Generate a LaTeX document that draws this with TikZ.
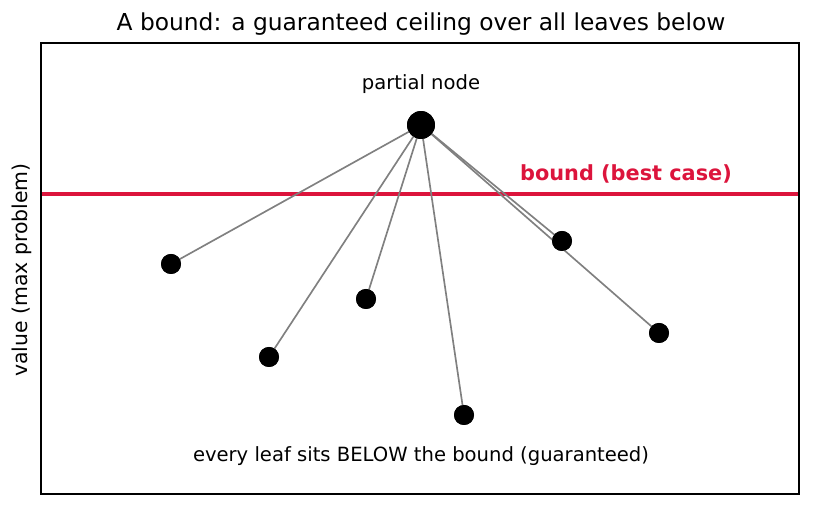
\documentclass[tikz,border=0pt]{standalone}
\usepackage{fontspec}
\setmainfont{DejaVu Sans}
\definecolor{boundred}{HTML}{DC143C}
\begin{document}
\begin{tikzpicture}[x=0.48pt,y=-0.48pt,
  leaf/.style={circle,fill=black,inner sep=0pt,minimum size=9.6pt},
  root/.style={circle,fill=black,inner sep=0pt,minimum size=13.4pt},
  edge/.style={draw=gray,line width=0.8pt},
  lbl/.style={inner sep=0pt,font=\fontsize{9.4}{11}\selectfont}]
\useasboundingbox (0,0) rectangle (814,510);
\node[font=\fontsize{11.2}{13}\selectfont,inner sep=0pt] (title) at (421,24) {A bound: a guaranteed ceiling over all leaves below};
\coordinate (axL) at (41,194);
\coordinate (axR) at (799,194);
\draw[boundred,line width=2pt] (axL) -- (axR);
\node[root] (p) at (421,125) {};
\node[leaf] (l1) at (171,264) {};
\node[leaf] (l2) at (269,357) {};
\node[leaf] (l3) at (366,299) {};
\node[leaf] (l4) at (464,415) {};
\node[leaf] (l5) at (562,241) {};
\node[leaf] (l6) at (659,333) {};
\foreach \l in {l1,l2,l3,l4,l5,l6} \path[edge] (p.center) -- (\l.center);
\foreach \l/\x/\y in {l1/171/264,l2/269/357,l3/366/299,l4/464/415,l5/562/241,l6/659/333} \node[leaf] at (\x,\y) {};
\node[root] at (421,125) {};
\node[lbl] (plabel) at (421,84) {partial node};
\node[inner sep=0pt,font=\bfseries\fontsize{10}{12}\selectfont,text=boundred] (blabel) at (626,174) {bound (best case)};
\node[lbl] (bottom) at (421,456) {every leaf sits BELOW the bound (guaranteed)};
\node[inner sep=0pt,font=\fontsize{9.8}{12}\selectfont,rotate=90] (ylab) at (22,270) {value (max problem)};
\draw[line width=0.8pt] (41,43) rectangle (799,494);
\end{tikzpicture}
\end{document}
